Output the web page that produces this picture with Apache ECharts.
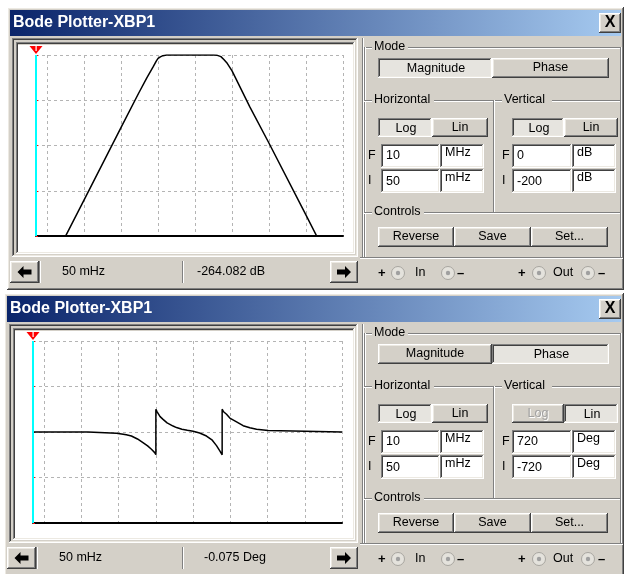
<!DOCTYPE html>
<html>
<head>
<meta charset="utf-8">
<style>
html, body { margin: 0; padding: 0; background: #fff; }
#main { width: 624px; height: 574px; }
</style>
<script src="https://cdn.jsdelivr.net/npm/echarts@6/dist/echarts.min.js"></script>
</head>
<body>
<div id="main"></div>
<script>
var freqRange = [0.05, 1e7];          // 50 mHz .. 10 MHz
var magRange = [-200, 0];             // dB
var phaseRange = [-720, 720];         // Deg
var cursorFreq = 0.05;

var magFreq = [0.05, 0.1, 1, 10, 30, 50, 74, 90, 100, 115, 135, 170, 300, 1000, 2500, 3100, 4000, 5000, 6000, 7400, 10000, 30000, 100000, 1000000, 10000000];
var magDb = [-264.1, -240, -160, -80, -42, -25, -12.9, -6.5, -3.8, -2, -0.7, -0.1, 0, 0, 0, 0, -0.4, -1.8, -5, -9.2, -17.5, -57, -97.5, -177, -257];

var phaseFreq = [0.05, 1.5, 1.5, 8.7, 12, 16, 22, 32, 45, 60, 76, 93, 100, 100, 108, 115, 130, 156, 200, 290, 358, 500, 700, 1000, 1500, 2290, 3200, 4250, 5220, 6030, 6030, 6600, 7900, 9700, 14700, 22100, 33400, 50600, 104000, 104000, 10000000];
var phaseDeg = [-0.075, -0.5, -7, -9, -15, -22, -32, -55, -84, -110, -137, -163, -180, 180, 160, 148, 122, 100, 72, 47, 35, 22, 14, 6, -8, -32, -62, -108, -150, -180, 180, 160, 140, 110, 80, 50, 33, 21, 11, 0, 0];

var FACE = '#d4d0c8', DARK = '#404040', SHADOW = '#808080', LIGHT = '#ffffff', HI = '#ece9e2';
var UI_FONT = '12.5px "Liberation Sans"';
var els = [];

function rect(x, y, w, h, fill, z) {
  els.push({ type: 'rect', silent: true, z: z == null ? -1 : z,
    shape: { x: x, y: y, width: w, height: h }, style: { fill: fill } });
}
function text(x, y, str, opt) {
  opt = opt || {};
  els.push({ type: 'text', silent: true, z: opt.z == null ? -1 : opt.z, x: x, y: y,
    style: { text: str, fill: opt.color || '#000', font: opt.font || UI_FONT,
      textAlign: opt.align || 'left', textVerticalAlign: 'middle',
      align: opt.align || 'left', verticalAlign: 'middle' } });
}
function bevel(x, y, w, h, raised, fill) {
  rect(x, y, w, h, fill || FACE);
  var a = raised ? LIGHT : SHADOW, b = raised ? DARK : LIGHT;
  var c = raised ? HI : DARK, d = raised ? SHADOW : HI;
  rect(x, y, w, 1, a); rect(x, y, 1, h, a);
  rect(x, y + h - 1, w, 1, b); rect(x + w - 1, y, 1, h, b);
  rect(x + 1, y + 1, w - 2, 1, c); rect(x + 1, y + 1, 1, h - 2, c);
  rect(x + 1, y + h - 2, w - 2, 1, d); rect(x + w - 2, y + 1, 1, h - 2, d);
}
function button(x, y, w, h, label, pressed, disabled) {
  bevel(x, y, w, h, !pressed, pressed ? '#e6e4df' : FACE);
  var cx = x + w / 2 + (pressed ? 1 : 0), cy = y + h / 2 + (pressed ? 1 : 0);
  if (disabled) {
    text(cx + 1, cy + 1, label, { align: 'center', color: '#fff' });
    text(cx, cy, label, { align: 'center', color: '#a0a0a0' });
  } else {
    text(cx, cy, label, { align: 'center' });
  }
}
function field(x, y, w, h, str, dy) {
  bevel(x, y, w, h, false, '#fff');
  text(x + 5, y + dy, str);
}
function etchH(x1, x2, y) { rect(x1, y, x2 - x1, 1, SHADOW); rect(x1, y + 1, x2 - x1, 1, LIGHT); }
function etchV(x, y1, y2) { rect(x, y1, 1, y2 - y1, SHADOW); rect(x + 1, y1, 1, y2 - y1, LIGHT); }
function radio(cx, cy) {
  els.push({ type: 'circle', silent: true, z: -1, shape: { cx: cx, cy: cy, r: 6.5 },
    style: { fill: '#e4e2dc', stroke: '#a8a6a0', lineWidth: 1 } });
  els.push({ type: 'circle', silent: true, z: -1, shape: { cx: cx, cy: cy, r: 2.2 },
    style: { fill: '#a0a0a0' } });
}
function arrow(cx, cy, dir) {
  var p = [[-7, 0], [-1, -6], [-1, -2.5], [7, -2.5], [7, 2.5], [-1, 2.5], [-1, 6]];
  els.push({ type: 'polygon', silent: true, z: -1,
    shape: { points: p.map(function (q) { return [cx + dir * q[0], cy + q[1]]; }) },
    style: { fill: '#000' } });
}

function plotter(oy, L, w) {
  // window body and title bar
  bevel(L - 3, oy + 7, 627 - L, 283, true);
  rect(L, oy + 10, 621 - L, 26, new echarts.graphic.LinearGradient(0, 0, 1, 0, [
    { offset: 0, color: '#0a246a' }, { offset: 1, color: '#a6caf0' }]));
  text(L + 3, oy + 23, 'Bode Plotter-XBP1', { color: '#fff', font: 'bold 16px "Liberation Sans"' });
  button(599, oy + 13, 22, 20, '', false);
  text(610, oy + 23, 'X', { align: 'center', font: 'bold 16px "Liberation Sans"' });

  // plot frame
  bevel(L + 2, oy + 38, 356 - L, 219, false);
  bevel(L + 6, oy + 42, 349 - L, 212, false);
  rect(L + 8, oy + 45, 345 - L, 207, '#fff');
  // cursor marker
  els.push({ type: 'polygon', silent: true, z: 100,
    shape: { points: [[L + 19.5, oy + 46], [L + 32.5, oy + 46], [L + 26, oy + 54]] },
    style: { fill: '#ff0000' } });
  rect(L + 25.5, oy + 46, 1.2, 5, '#fff', 101);

  // readout bar
  bevel(L, oy + 261, 29, 22, true);
  arrow(L + 14.5, oy + 272, 1);
  rect(L + 29, oy + 261, 183 - L - 29, 22, FACE);
  etchV(L + 29, oy + 261, oy + 283);
  text(L + 52, oy + 272, w.readF);
  etchV(182, oy + 261, oy + 283);
  text(w.readVx, oy + 272, w.readV);
  bevel(330, oy + 261, 28, 22, true);
  arrow(344, oy + 272, -1);

  // group boxes
  etchV(362, oy + 38, oy + 257);
  etchH(364, 372, oy + 47); text(374, oy + 47, 'Mode'); etchH(408, 621, oy + 47);
  etchV(620, oy + 47, oy + 257);
  etchV(364, oy + 47, oy + 257);
  etchH(364, 372, oy + 100); text(374, oy + 100, 'Horizontal'); etchH(434, 493, oy + 100);
  etchH(495, 502, oy + 100); text(504, oy + 100, 'Vertical'); etchH(552, 620, oy + 100);
  etchV(493, oy + 100, oy + 212);
  etchH(364, 372, oy + 212); text(374, oy + 212, 'Controls'); etchH(424, 620, oy + 212);
  etchH(360, 623, oy + 257);

  button(378, oy + 58, 114, 20, 'Magnitude', w.mode === 'mag');
  button(492, oy + 58, 117, 20, 'Phase', w.mode === 'phase');
  button(378, oy + 118, 54, 19, 'Log', true);
  button(432, oy + 118, 56, 19, 'Lin', false);
  button(512, oy + 118, 52, 19, 'Log', w.vLog, !w.vLog);
  button(564, oy + 118, 54, 19, 'Lin', !w.vLog);

  text(368, oy + 156, 'F'); text(368, oy + 181, 'I');
  field(381, oy + 144, 59, 24, '10', 12); field(440, oy + 144, 44, 24, 'MHz', 9);
  field(381, oy + 169, 59, 24, '50', 13); field(440, oy + 169, 44, 24, 'mHz', 9);
  text(502, oy + 156, 'F'); text(502, oy + 181, 'I');
  field(512, oy + 144, 60, 24, w.vF, 12); field(572, oy + 144, 44, 24, w.unit, 9);
  field(512, oy + 169, 60, 24, w.vI, 13); field(572, oy + 169, 44, 24, w.unit, 9);

  button(378, oy + 227, 76, 20, 'Reverse', false);
  button(454, oy + 227, 77, 20, 'Save', false);
  button(531, oy + 227, 77, 20, 'Set...', false);

  var ry = oy + 273;
  text(378, ry, '+', { font: 'bold 13px "Liberation Sans"' }); radio(398, ry);
  text(415, ry, 'In'); radio(448, ry); text(457, ry, '\u2013', { font: 'bold 13px "Liberation Sans"' });
  text(518, ry, '+', { font: 'bold 13px "Liberation Sans"' }); radio(539, ry);
  text(553, ry, 'Out'); radio(588, ry); text(598, ry, '\u2013', { font: 'bold 13px "Liberation Sans"' });
}

plotter(0, 10, { mode: 'mag', vLog: true, vF: '0', vI: '-200', unit: 'dB',
  readF: '50 mHz', readV: '-264.082 dB', readVx: 197 });
plotter(286, 7, { mode: 'phase', vLog: false, vF: '720', vI: '-720', unit: 'Deg',
  readF: '50 mHz', readV: '-0.075 Deg', readVx: 204 });

function pairs(xs, ys) { return xs.map(function (x, i) { return [x, ys[i]]; }); }

var gridLine = { show: true, lineStyle: { color: '#b4b4b4', width: 1, type: [3, 3] } };
function xAxisFor(i) {
  return { gridIndex: i, type: 'log', logBase: 10, min: freqRange[0], max: freqRange[1],
    axisLabel: { show: false }, axisTick: { show: false },
    axisLine: { show: true, onZero: false, lineStyle: { color: '#000', width: 2 } },
    splitLine: gridLine };
}
function yAxisFor(i, range, step) {
  return { gridIndex: i, type: 'value', min: range[0], max: range[1], interval: step,
    axisLabel: { show: false }, axisLine: { show: false, onZero: false },
    axisTick: { show: true, inside: true, length: 2, lineStyle: { color: '#ff0000' } },
    splitLine: gridLine };
}
function curve(i, data) {
  return { type: 'line', xAxisIndex: i, yAxisIndex: i, data: data, showSymbol: false,
    lineStyle: { color: '#000', width: 1.5 }, silent: true,
    markLine: { silent: true, symbol: 'none', label: { show: false },
      lineStyle: { color: '#00ffff', width: 2, type: 'solid' },
      data: [{ xAxis: cursorFreq }] } };
}

var myChart = echarts.init(document.getElementById('main'));
var option = {
  animation: false,
  backgroundColor: '#ffffff',
  graphic: { elements: els },
  grid: [
    { left: 36, right: 281, top: 55, bottom: 338 },
    { left: 33, right: 282, top: 341, bottom: 51 }
  ],
  xAxis: [xAxisFor(0), xAxisFor(1)],
  yAxis: [yAxisFor(0, magRange, 50), yAxisFor(1, phaseRange, 360)],
  series: [curve(0, pairs(magFreq, magDb)), curve(1, pairs(phaseFreq, phaseDeg))]
};
option && myChart.setOption(option);
</script>
</body>
</html>
